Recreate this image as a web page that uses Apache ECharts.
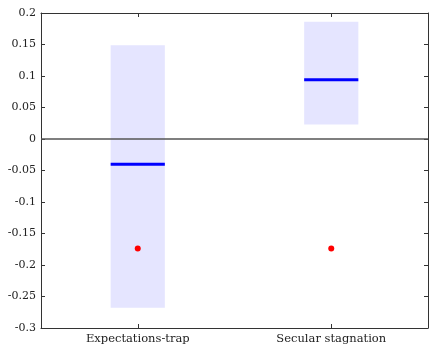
<!DOCTYPE html>
<html><head><meta charset="utf-8">
<script src="https://cdn.jsdelivr.net/npm/echarts@6/dist/echarts.min.js"></script>
<style>html,body{margin:0;padding:0;background:#fff}#c{width:431px;height:346px}</style>
</head><body><div id="c"></div>
<script>
const categories = ['Expectations-trap', 'Secular stagnation'];
const boxLow = [-0.268, 0.023];
const boxHigh = [0.149, 0.186];
const medians = [-0.04, 0.094];
const points = [-0.174, -0.174];

const font = 'DejaVu Serif';
const chart = echarts.init(document.getElementById('c'));
const axisLine = {show: true, onZero: false, lineStyle: {color: '#333', width: 1}};
chart.setOption({
  animation: false,
  grid: {left: 41, right: 3, top: 13, bottom: 18},
  xAxis: [
    {type: 'category', data: categories, boundaryGap: true, axisLine: axisLine,
     axisTick: {show: true, inside: true, alignWithLabel: true, length: 4, lineStyle: {color: '#333'}},
     axisLabel: {fontFamily: font, fontSize: 11.5, color: '#222', margin: 5}, splitLine: {show: false}},
    {type: 'category', data: categories, position: 'top', boundaryGap: true, axisLine: axisLine,
     axisTick: {show: true, inside: true, alignWithLabel: true, length: 4, lineStyle: {color: '#333'}},
     axisLabel: {show: false}, splitLine: {show: false}}
  ],
  yAxis: [
    {type: 'value', min: -0.3, max: 0.2, interval: 0.05, axisLine: axisLine,
     axisTick: {show: true, inside: true, length: 4, lineStyle: {color: '#333'}},
     axisLabel: {fontFamily: font, fontSize: 11, color: '#222', margin: 5}, splitLine: {show: false}},
    {type: 'value', min: -0.3, max: 0.2, interval: 0.05, position: 'right', axisLine: axisLine,
     axisTick: {show: true, inside: true, length: 4, lineStyle: {color: '#333'}},
     axisLabel: {show: false}, splitLine: {show: false}}
  ],
  series: [
    {type: 'custom', z: 1,
     data: categories.map((c, i) => [i, boxLow[i], boxHigh[i]]),
     renderItem: function (params, api) {
       const lo = api.coord([api.value(0), api.value(1)]);
       const hi = api.coord([api.value(0), api.value(2)]);
       const w = api.size([1, 0])[0] * 0.28;
       return {type: 'rect', shape: {x: lo[0] - w / 2, y: hi[1], width: w, height: lo[1] - hi[1]},
               style: {fill: '#e5e5ff'}};
     }},
    {type: 'custom', z: 3,
     data: categories.map((c, i) => [i, medians[i]]),
     renderItem: function (params, api) {
       const p = api.coord([api.value(0), api.value(1)]);
       const w = api.size([1, 0])[0] * 0.28;
       return {type: 'line', shape: {x1: p[0] - w / 2, y1: p[1], x2: p[0] + w / 2, y2: p[1]},
               style: {stroke: '#0000ff', lineWidth: 3}};
     }},
    {type: 'scatter', z: 4, symbolSize: 6, itemStyle: {color: '#ff0000', opacity: 1},
     data: categories.map((c, i) => [i, points[i]]),
     markLine: {silent: true, symbol: 'none', label: {show: false}, z: 2,
       lineStyle: {color: '#555', width: 1.5, type: 'solid'},
       data: [{yAxis: 0}]}}
  ]
});
</script></body></html>
